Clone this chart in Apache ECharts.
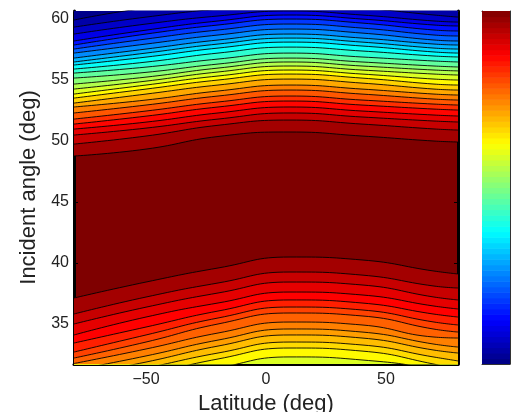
<!DOCTYPE html>
<html><head><meta charset="utf-8">
<style>html,body{margin:0;padding:0;background:#fff}#c{width:514px;height:412px}</style>
<script src="https://cdn.jsdelivr.net/npm/echarts@6/dist/echarts.min.js"></script>
</head><body><div id="c"></div>
<script>
const latitudes = [-80, -50, -20, 10, 40, 70, 80];
const xTicks = [-50, 0, 50];
const yTicks = [35, 40, 45, 50, 55, 60];
const colorbarTicks = [0.0935, 0.238, 0.382, 0.527, 0.671, 0.816, 0.96];
const colorbarLevels = 64;

// Contour angles (deg) at each latitude, upper family from the top of the plot down
const upperContours = [
  [59.92,60.90,61.39,61.80,61.48,60.99,60.90],
  [59.34,60.16,60.82,61.23,60.90,60.33,60.16],
  [58.77,59.59,60.25,60.66,60.33,59.84,59.75],
  [58.20,59.09,59.84,60.33,60.00,59.51,59.43],
  [57.87,58.77,59.51,60.00,59.67,59.10,59.02],
  [57.54,58.36,59.10,59.59,59.26,58.69,58.61],
  [57.21,57.95,58.69,59.18,58.85,58.28,58.20],
  [56.80,57.54,58.28,58.77,58.44,57.95,57.87],
  [56.48,57.21,57.95,58.44,58.11,57.62,57.54],
  [56.23,56.88,57.62,58.11,57.79,57.30,57.21],
  [55.90,56.47,57.21,57.70,57.38,56.97,56.89],
  [55.57,56.06,56.72,57.21,56.89,56.56,56.48],
  [55.16,55.63,56.31,56.80,56.48,56.15,56.07],
  [54.67,55.24,55.98,56.48,56.15,55.82,55.75],
  [54.26,54.91,55.66,56.15,55.82,55.49,55.41],
  [53.85,54.59,55.33,55.82,55.49,55.08,55.00],
  [53.52,54.26,55.00,55.49,55.16,54.67,54.59],
  [53.11,53.85,54.59,55.08,54.75,54.26,54.18],
  [52.79,53.36,54.10,54.59,54.26,53.85,53.77],
  [52.30,52.95,53.69,54.18,53.85,53.44,53.36],
  [51.80,52.46,53.20,53.69,53.36,53.03,52.95],
  [51.39,52.04,52.79,53.28,52.95,52.62,52.54],
  [50.98,51.55,52.30,52.79,52.46,52.13,52.05],
  [50.49,51.06,51.80,52.30,51.97,51.64,51.56],
  [49.75,50.41,51.29,51.72,51.39,50.99,50.90],
  [48.77,49.34,50.37,50.74,50.41,50.00,49.92]
];
// Colormap position of the band just above each upper contour
const upperShades = [0.01,0.04,0.07,0.10,0.14,0.18,0.22,0.26,0.30,0.34,0.38,0.42,0.47,0.51,0.55,0.59,0.63,0.67,0.71,0.75,0.79,0.83,0.87,0.90,0.93,0.965];

// Lower family, from the dark red plateau downward
const lowerContours = [
  [37.13,38.44,39.59,40.49,40.25,39.34,39.10],
  [35.82,37.21,38.36,39.26,39.01,38.11,37.95],
  [35.00,36.38,37.54,38.44,38.20,37.21,36.97],
  [34.10,35.57,36.72,37.62,37.38,36.47,36.23],
  [33.44,34.75,36.06,36.97,36.72,35.81,35.57],
  [32.70,34.10,35.49,36.39,36.15,35.16,34.92],
  [32.21,33.52,35.00,35.90,35.66,34.58,34.34],
  [31.76,32.95,34.26,35.16,34.92,33.93,33.85],
  [31.22,32.38,33.68,34.59,34.34,33.35,33.11],
  [30.74,31.88,33.19,34.10,33.85,32.86,32.62],
  [30.25,31.39,32.62,33.52,33.28,32.29,31.97],
  [29.59,30.82,32.13,33.03,32.78,31.71,31.22],
  [28.77,30.16,31.39,32.30,32.05,31.22,30.41]
];
// Colormap position of the band just below each lower contour
const lowerShades = [0.965,0.93,0.90,0.875,0.845,0.81,0.78,0.75,0.72,0.69,0.66,0.63,0.59];

function jet(t) {
  const c = v => Math.round(255 * Math.max(0, Math.min(1, v)));
  const r = Math.min(4 * t - 1.5, -4 * t + 4.5);
  const g = Math.min(4 * t - 0.5, -4 * t + 3.5);
  const b = Math.min(4 * t + 0.5, -4 * t + 2.5);
  return 'rgb(' + c(r) + ',' + c(g) + ',' + c(b) + ')';
}

function contourSeries(values, shade, origin) {
  return {
    type: 'line', xAxisIndex: 0, yAxisIndex: 0, silent: true, showSymbol: false, symbol: 'none',
    smooth: 0.5, animation: false,
    data: latitudes.map((lat, i) => [lat, values[i]]),
    lineStyle: { color: 'rgba(0,0,0,0.88)', width: 1 },
    areaStyle: { color: jet(shade), opacity: 1, origin: origin }
  };
}

const series = [];
for (let i = upperContours.length - 1; i >= 0; i--) series.push(contourSeries(upperContours[i], upperShades[i], 'end'));
for (let i = 0; i < lowerContours.length; i++) series.push(contourSeries(lowerContours[i], lowerShades[i], 'start'));

const barCells = [];
for (let i = 0; i < colorbarLevels; i++) barCells.push([i / colorbarLevels, (i + 1) / colorbarLevels]);
series.push({
  type: 'custom', xAxisIndex: 2, yAxisIndex: 2, silent: true, animation: false, clip: true,
  data: barCells,
  renderItem(params, api) {
    const lo = api.coord([0, api.value(0)]);
    const hi = api.coord([1, api.value(1)]);
    return { type: 'rect', shape: { x: lo[0], y: hi[1], width: hi[0] - lo[0], height: lo[1] - hi[1] + 0.6 },
      style: { fill: jet((api.value(0) + api.value(1)) / 2) } };
  }
});

const font = '"Liberation Sans", Arial, sans-serif';
const heavy = { show: true, onZero: false, lineStyle: { color: '#000', width: 3 } };
const thin = { show: true, onZero: false, lineStyle: { color: '#333', width: 1 } };
const tickOf = (vals, color) => ({ show: true, inside: true, length: 4, customValues: vals, lineStyle: { color: color, width: 1 } });
const minus = v => String(v).replace('-', '\u2212');

const chart = echarts.init(document.getElementById('c'), null, { renderer: 'canvas' });
chart.setOption({
  animation: false,
  backgroundColor: '#fff',
  grid: [
    { left: 74, right: 56, top: 11, bottom: 48, outerBoundsMode: 'none', show: true, backgroundColor: '#7f0000', borderWidth: 0 },
    { left: 482, right: 4, top: 11, bottom: 48, outerBoundsMode: 'none', show: false }
  ],
  xAxis: [
    { type: 'value', gridIndex: 0, min: -80, max: 80, position: 'bottom', axisLine: heavy,
      axisTick: tickOf(xTicks, '#000'), splitLine: { show: false },
      axisLabel: { customValues: xTicks, formatter: minus, color: '#222', fontFamily: font, fontSize: 16, margin: 8 },
      name: 'Latitude (deg)', nameLocation: 'middle', nameGap: 23,
      nameTextStyle: { color: '#222', fontFamily: font, fontSize: 22 } },
    { type: 'value', gridIndex: 0, min: -80, max: 80, position: 'top', axisLine: thin,
      axisTick: tickOf(xTicks, '#000'), axisLabel: { show: false }, splitLine: { show: false } },
    { type: 'value', gridIndex: 1, min: 0, max: 1, position: 'bottom', axisLine: thin,
      axisTick: { show: false }, axisLabel: { show: false }, splitLine: { show: false } },
    { type: 'value', gridIndex: 1, min: 0, max: 1, position: 'top', axisLine: thin,
      axisTick: { show: false }, axisLabel: { show: false }, splitLine: { show: false } }
  ],
  yAxis: [
    { type: 'value', gridIndex: 0, min: 31.72, max: 60.66, position: 'left', axisLine: heavy,
      axisTick: tickOf(yTicks, '#000'), splitLine: { show: false },
      axisLabel: { customValues: yTicks, color: '#222', fontFamily: font, fontSize: 16, margin: 5 },
      name: 'Incident angle (deg)', nameLocation: 'middle', nameGap: 27,
      nameTextStyle: { color: '#222', fontFamily: font, fontSize: 22 } },
    { type: 'value', gridIndex: 0, min: 31.72, max: 60.66, position: 'right', axisLine: heavy,
      axisTick: tickOf(yTicks, '#000'), axisLabel: { show: false }, splitLine: { show: false } },
    { type: 'value', gridIndex: 1, min: 0, max: 1, position: 'left', axisLine: thin,
      axisTick: tickOf(colorbarTicks, '#222'), axisLabel: { show: false }, splitLine: { show: false } },
    { type: 'value', gridIndex: 1, min: 0, max: 1, position: 'right', axisLine: thin,
      axisTick: tickOf(colorbarTicks, '#222'), axisLabel: { show: false }, splitLine: { show: false } }
  ],
  series: series
});
</script></body></html>
